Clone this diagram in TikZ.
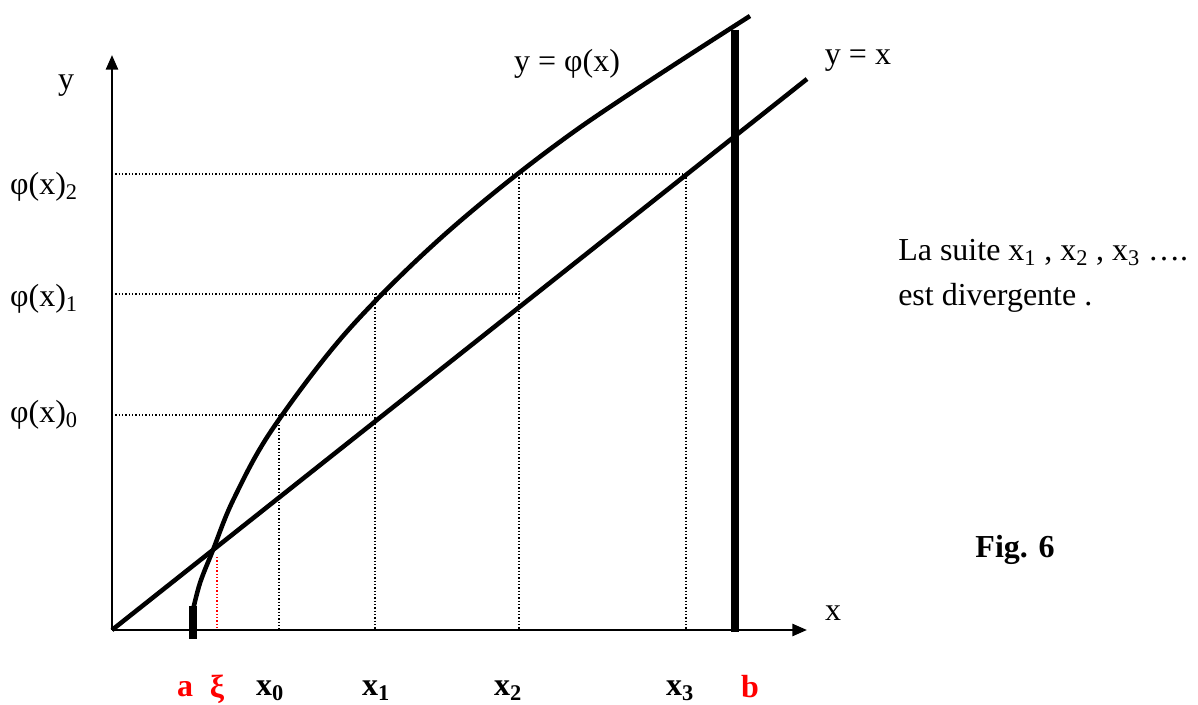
\documentclass[tikz,border=0pt]{standalone}
\usepackage{fontspec}
\setmainfont{Liberation Serif}
\usetikzlibrary{arrows.meta}
\definecolor{labred}{RGB}{255,0,0}
\begin{document}
\begin{tikzpicture}[x=0.75pt,y=-0.75pt,
  axisline/.style={line width=1.9pt,-{Triangle[length=11pt,width=9pt]}},
  graphline/.style={line width=3.4pt},
  guide/.style={line width=0.9pt,dash pattern=on 0.9pt off 1.6pt},
  barline/.style={line width=5.5pt},
  lab/.style={font=\fontsize{24}{28}\selectfont,inner sep=0pt},
  blab/.style={lab,font=\fontsize{24}{28}\selectfont\bfseries},
  rlab/.style={blab,text=labred}]
\useasboundingbox (0,0) rectangle (1198,705);
% key points
\coordinate (O) at (112,630);
\coordinate (Xend) at (807,630);
\coordinate (Yend) at (112,55);
\coordinate (Lend) at (807,79);
\coordinate (Btop) at (735,30);
\coordinate (Bbot) at (735,632);
\coordinate (Atop) at (193,606);
\coordinate (Abot) at (193,639);
% axes
\draw[axisline] (O) -- (Xend);
\draw[axisline] (O) -- (Yend);
% y = x
\draw[graphline] (O) -- (Lend);
% curve y = phi(x)
\draw[graphline] plot[smooth,tension=0.55] coordinates {(192,614) (200,583) (213,550) (233.2,500) (271.8,430) (348.3,330) (449.8,230) (576.3,130) (750,16)};
% bars
\draw[barline] (Btop) -- (Bbot);
\draw[barline] (Atop) -- (Abot);
% construction guides
\coordinate (P0) at (112,415);
\coordinate (P1) at (112,294);
\coordinate (P2) at (112,174);
\coordinate (X0t) at (279,415);
\coordinate (X0b) at (279,630);
\coordinate (X1t) at (375,415);
\coordinate (X1u) at (375,294);
\coordinate (X1b) at (375,630);
\coordinate (X2u) at (519,294);
\coordinate (X2t) at (519,174);
\coordinate (X2b) at (519,630);
\coordinate (X3t) at (686,174);
\coordinate (X3b) at (686,630);
\coordinate (Xit) at (217,557);
\coordinate (Xib) at (217,630);
\draw[guide] (P0) -- (X1t);
\draw[guide] (P1) -- (X2u);
\draw[guide] (P2) -- (X3t);
\draw[guide] (X0t) -- (X0b);
\draw[guide] (X1u) -- (X1b);
\draw[guide] (X2t) -- (X2b);
\draw[guide] (X3t) -- (X3b);
\draw[guide,labred] (Xit) -- (Xib);
% labels
\node[lab] (ly) at (66,86) {y};
\node[lab] (lx) at (833,613) {x};
\node[lab] (lphi) at (567,64) {y = φ(x)};
\node[lab] (lid) at (858,61) {y = x};
\node[lab] (l2) at (44,187) {φ(x)\textsubscript{2}};
\node[lab] (l1) at (44,299) {φ(x)\textsubscript{1}};
\node[lab] (l0) at (44,415) {φ(x)\textsubscript{0}};
\node[rlab] (la) at (185,689) {a};
\node[rlab] (lxi) at (217,689) {ξ};
\node[blab] (lx0) at (270,691) {x\textsubscript{0}};
\node[blab] (lx1) at (376,691) {x\textsubscript{1}};
\node[blab] (lx2) at (508,691) {x\textsubscript{2}};
\node[blab] (lx3) at (680,691) {x\textsubscript{3}};
\node[rlab] (lb) at (750,687) {b};
\node[blab] (fig) at (1015,550) {Fig. 6};
\node[lab,anchor=west] (t1) at (898,253) {La suite x\textsubscript{1} , x\textsubscript{2} , x\textsubscript{3} ….};
\node[lab,anchor=west] (t2) at (898,298) {est divergente .};
\end{tikzpicture}
\end{document}
